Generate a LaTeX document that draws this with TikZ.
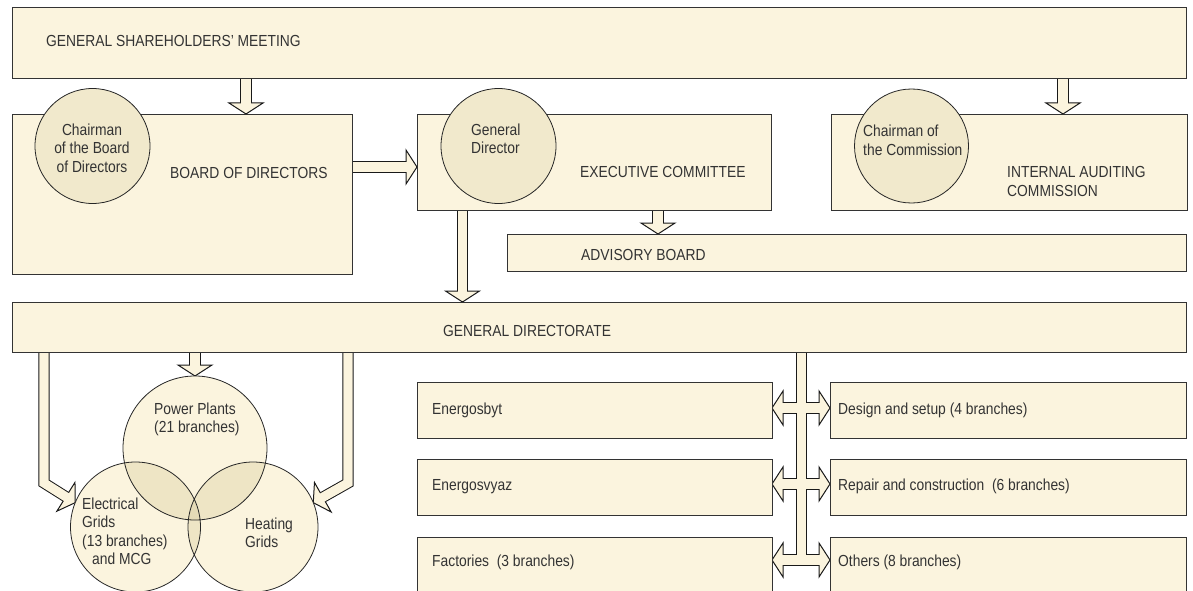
\documentclass[tikz,border=0pt]{standalone}
\usepackage{fontspec}
\setmainfont[FakeStretch=0.865]{Liberation Sans}
\usetikzlibrary{calc}

\definecolor{boxcream}{RGB}{251,244,222}
\definecolor{circletan}{RGB}{241,233,204}
\definecolor{venntwo}{RGB}{238,229,197}
\definecolor{venntri}{RGB}{229,219,183}

\pgfdeclarelayer{shaftback}
\pgfdeclarelayer{heads}
\pgfdeclarelayer{shaftfront}
\pgfsetlayers{shaftback,heads,shaftfront,main}

\tikzset{
  box/.style={draw=black!80, line width=0.9pt, fill=boxcream, anchor=north west, inner sep=0pt, outer sep=0pt},
  disc/.style={circle, draw=black!85, line width=0.8pt, fill=circletan, inner sep=0pt, outer sep=0pt},
  venn/.style={circle, fill=boxcream, inner sep=0pt, outer sep=0pt},
  vennline/.style={draw=black!85, line width=0.8pt},
  lbl/.style={anchor=base west, inner sep=0pt, text=black!80, font=\fontsize{16}{18.5}\selectfont, align=left},
  shaftout/.style={draw=black!90, line width=11.2pt, line join=miter},
  shaftin/.style={draw=boxcream, line width=9.2pt, line join=miter},
  headfill/.style={draw=black!90, line width=1pt, fill=boxcream, line join=miter}
}

% hollow arrow: start, last bend, tip
\newcommand{\fatbent}[3]{%
  \path ($(#3)!11pt!(#2)$) coordinate (hb) ($(hb)!1.5pt!(#3)$) coordinate (hc);
  \begin{pgfonlayer}{shaftback}
    \draw[shaftout] (#1) -- (#2) -- (hb);
  \end{pgfonlayer}
  \begin{pgfonlayer}{heads}
    \draw[headfill] (#3) -- ($(hb)!17pt!90:(#3)$) -- ($(hb)!17pt!-90:(#3)$) -- cycle;
  \end{pgfonlayer}
  \begin{pgfonlayer}{shaftfront}
    \draw[shaftin] (#1) -- (#2) -- (hc);
  \end{pgfonlayer}}
\newcommand{\fatarrow}[2]{\path ($(#1)!.5!(#2)$) coordinate (fm); \fatbent{#1}{fm}{#2}}

\begin{document}
\begin{tikzpicture}[x=1pt,y=-1pt]
\useasboundingbox (0,0) rectangle (1193,591);
\clip (0,0) rectangle (1193,591);

% boxes
\node[box, minimum width=1174pt, minimum height=71pt] (gsm) at (12,7) {};
\node[box, minimum width=340pt, minimum height=160pt] (bod) at (12,114) {};
\node[box, minimum width=354pt, minimum height=96pt] (exc) at (417,114) {};
\node[box, minimum width=356pt, minimum height=96pt] (iac) at (831,114) {};
\node[box, minimum width=679pt, minimum height=37pt] (adv) at (507,234) {};
\node[box, minimum width=1174pt, minimum height=50pt] (gd) at (12,302) {};
\node[box, minimum width=355pt, minimum height=56pt] (eb) at (417,382) {};
\node[box, minimum width=355pt, minimum height=56pt] (ev) at (417,459) {};
\node[box, minimum width=355pt, minimum height=70pt] (fa) at (417,537) {};
\node[box, minimum width=356pt, minimum height=56pt] (ds) at (830,382) {};
\node[box, minimum width=356pt, minimum height=56pt] (rc) at (830,459) {};
\node[box, minimum width=356pt, minimum height=70pt] (ot) at (830,537) {};

% chairmen
\node[disc, minimum size=115pt] (chb) at (92.5,146) {};
\node[disc, minimum size=115pt] (cgd) at (498.5,146) {};
\node[disc, minimum size=114pt] (cac) at (911.5,146) {};

% branches
\node[venn, minimum size=144pt] (pp) at (195,448) {};
\node[venn, minimum size=130pt] (eg) at (135.5,527) {};
\node[venn, minimum size=130pt] (hg) at (253,527) {};
\begin{scope}
  \clip (pp.center) circle (72pt);
  \fill[venntwo] (eg.center) circle (65pt) (hg.center) circle (65pt);
\end{scope}
\begin{scope}
  \clip (eg.center) circle (65pt);
  \fill[venntwo] (hg.center) circle (65pt);
\end{scope}
\begin{scope}
  \clip (pp.center) circle (72pt);
  \clip (eg.center) circle (65pt);
  \fill[venntri] (hg.center) circle (65pt);
\end{scope}
\draw[vennline] (pp.center) circle (72pt) (eg.center) circle (65pt) (hg.center) circle (65pt);

% arrows
\coordinate (ga) at (246,0);
\coordinate (gb) at (1063,0);
\coordinate (eo) at (0,167);
\coordinate (ea) at (658,0);
\coordinate (ed) at (462.5,0);
\coordinate (bl) at (44,483);
\coordinate (br) at (348,483);
\fatarrow{gsm.south -| ga}{bod.north -| ga}
\fatarrow{gsm.south -| gb}{iac.north -| gb}
\fatarrow{bod.east |- eo}{exc.west |- eo}
\fatarrow{exc.south -| ea}{adv.north -| ea}
\fatarrow{exc.south -| ed}{gd.north -| ed}
\fatarrow{gd.south -| pp.north}{pp.north}
\fatbent{gd.south -| bl}{bl}{eg.158}
\fatbent{gd.south -| br}{br}{hg.22}

% bus to the services
\coordinate (bus1) at (801.5,408);
\coordinate (bus2) at (801.5,484);
\coordinate (bus3) at (801.5,560);
\begin{pgfonlayer}{shaftback}
  \draw[shaftout] (gd.south -| bus1) -- (bus3);
\end{pgfonlayer}
\begin{pgfonlayer}{shaftfront}
  \draw[shaftin] (gd.south -| bus1) -- (bus3);
\end{pgfonlayer}
\fatarrow{bus1}{bus1 -| eb.east}
\fatarrow{bus1}{bus1 -| ds.west}
\fatarrow{bus2}{bus2 -| ev.east}
\fatarrow{bus2}{bus2 -| rc.west}
\fatarrow{bus3}{bus3 -| fa.east}
\fatarrow{bus3}{bus3 -| ot.west}

% labels (multi-line: base = last line)
\node[lbl] (lgsm) at (46,47) {GENERAL SHAREHOLDERS' MEETING};
\node[lbl, align=center, anchor=base] (lchb) at (92,172) {Chairman\\of the Board\\of Directors};
\node[lbl] (lbod) at (170,178) {BOARD OF DIRECTORS};
\node[lbl] (lcgd) at (471,153.5) {General\\Director};
\node[lbl] (lexc) at (580,177) {EXECUTIVE COMMITTEE};
\node[lbl] (lcac) at (863,155) {Chairman of\\the Commission};
\node[lbl] (liac) at (1007,196) {INTERNAL AUDITING\\COMMISSION};
\node[lbl] (ladv) at (581,260) {ADVISORY BOARD};
\node[lbl] (lgd) at (443,336) {GENERAL DIRECTORATE};
\node[lbl] (lpp) at (154,432.5) {Power Plants\\(21 branches)};
\node[lbl] (leg) at (82,564.5) {Electrical\\Grids\\(13 branches)\\\hspace*{10pt}and MCG};
\node[lbl] (lhg) at (245,547.5) {Heating\\Grids};
\node[lbl] (leb) at (432,414) {Energosbyt};
\node[lbl] (lev) at (432,490) {Energosvyaz};
\node[lbl] (lfa) at (432,566) {Factories\ \ (3 branches)};
\node[lbl] (lds) at (838,414) {Design and setup (4 branches)};
\node[lbl] (lrc) at (838,490) {Repair and construction\ \ (6 branches)};
\node[lbl] (lot) at (838,566) {Others (8 branches)};
\end{tikzpicture}
\end{document}
